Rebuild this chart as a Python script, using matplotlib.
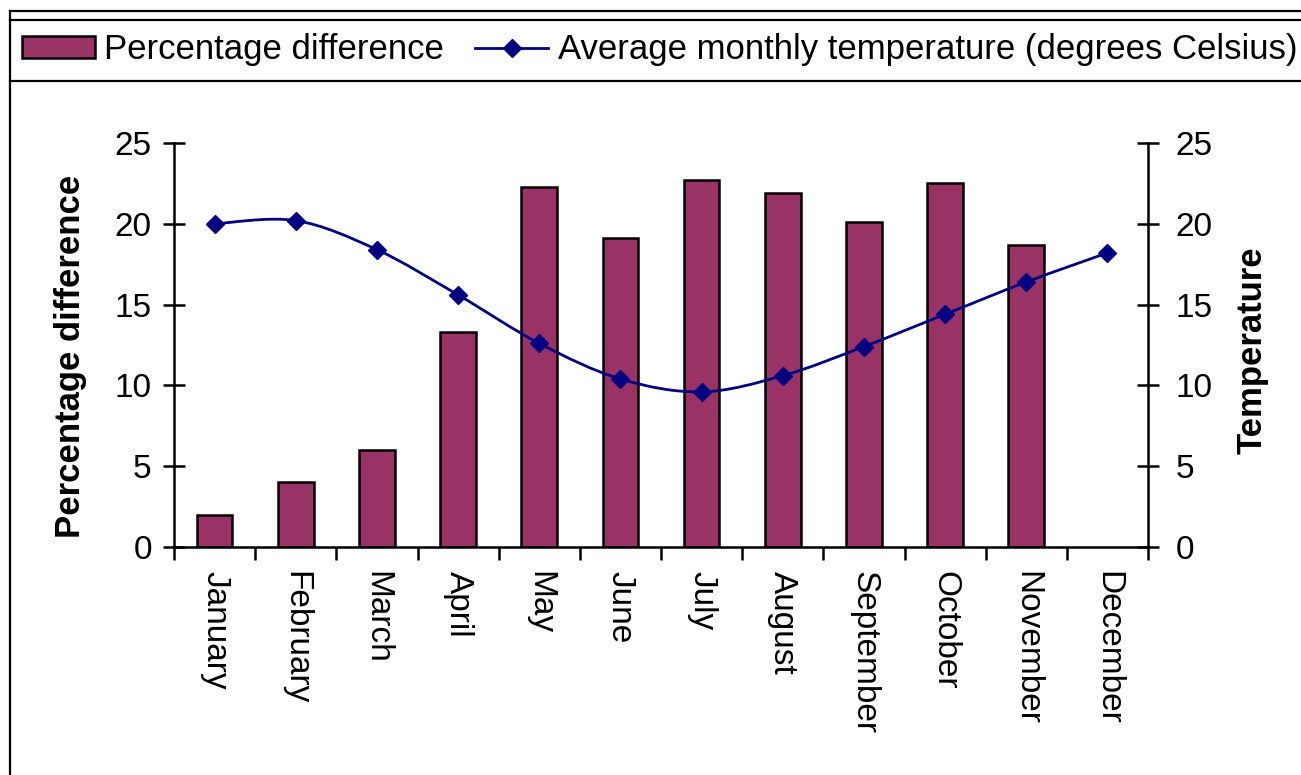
import numpy as np
import matplotlib.pyplot as plt
from matplotlib.lines import Line2D
from matplotlib.patches import Patch, PathPatch
from matplotlib.path import Path

plt.rcParams['font.family'] = ['Liberation Sans', 'DejaVu Sans']

# Les données
mois = ['January', 'February', 'March', 'April', 'May', 'June', 'July',
        'August', 'September', 'October', 'November', 'December']
pct_diff = [2.0, 4.0, 6.0, 13.3, 22.3, 19.1, 22.7, 21.9, 20.1, 22.5, 18.7, np.nan]
temperature = [20.0, 20.2, 18.4, 15.6, 12.6, 10.4, 9.6, 10.6, 12.4, 14.4, 16.4, 18.2]

BAR_COLOR = '#993366'
LINE_COLOR = '#000080'
W, H = 1301, 775

fig = plt.figure(figsize=(W / 100, H / 100), dpi=100)
ax = fig.add_axes([174 / W, 1 - 547 / H, (1148 - 174) / W, (547 - 143) / H])
ax2 = ax.twinx()

x = np.arange(len(mois))
ax.bar(x, pct_diff, width=0.44, color=BAR_COLOR, edgecolor='black', linewidth=1.8, zorder=2)

# Ligne lissée façon Excel (courbes de Bézier entre les points)
pts = np.column_stack([x, temperature]).astype(float)
verts = [pts[0]]
codes = [Path.MOVETO]
for i in range(len(pts) - 1):
    p0 = pts[max(i - 1, 0)]
    p1 = pts[i]
    p2 = pts[i + 1]
    p3 = pts[min(i + 2, len(pts) - 1)]
    verts += [p1 + (p2 - p0) / 6, p2 - (p3 - p1) / 6, p2]
    codes += [Path.CURVE4] * 3
ax2.add_patch(PathPatch(Path(verts, codes), fill=False, edgecolor=LINE_COLOR, linewidth=2.0, zorder=3))
ax2.plot(x, temperature, linestyle='none', marker='D', markersize=9.5,
         color=LINE_COLOR, zorder=4)

for a in (ax, ax2):
    a.set_xlim(-0.5, len(mois) - 0.5)
    a.set_ylim(0, 25)
    a.set_yticks(range(0, 26, 5))
    for s in a.spines.values():
        s.set_linewidth(1.8)
    a.spines['top'].set_visible(False)
ax.spines['right'].set_visible(False)
ax2.spines['left'].set_visible(False)
ax2.spines['bottom'].set_visible(False)

ax.tick_params(axis='y', direction='inout', length=16, width=1.8, labelsize=24, pad=8)
ax2.tick_params(axis='y', direction='inout', length=16, width=1.8, labelsize=24, pad=12)

ax.set_xticks(x)
ax.set_xticklabels(mois, rotation=270, fontsize=24)
ax.tick_params(axis='x', which='major', length=0, pad=17)
ax.set_xticks(np.arange(-0.5, len(mois), 1.0), minor=True)
ax.tick_params(axis='x', which='minor', direction='out', length=9, width=1.8)
for lab in ax.get_xticklabels():
    lab.set_verticalalignment('top')

ax.set_ylabel('Percentage difference', fontsize=25, fontweight='bold', va='center')
ax.yaxis.set_label_coords(-0.106, 0.473)
ax2.set_ylabel('Temperature', fontsize=25, fontweight='bold', rotation=90, va='center')
ax2.yaxis.set_label_coords(1.107, 0.488)

handles = [Patch(facecolor=BAR_COLOR, edgecolor='black', linewidth=1.8),
           Line2D([], [], color=LINE_COLOR, linewidth=2.0, marker='D', markersize=9.5)]
labels = ['Percentage difference', 'Average monthly temperature (degrees Celsius)']
fig.legend(handles, labels, loc='center left', bbox_to_anchor=(22 / W, 1 - 50 / H),
           ncol=2, frameon=False, fontsize=25, handlelength=2.1, handleheight=0.58,
           handletextpad=0.27, columnspacing=0.9, borderpad=0, borderaxespad=0)

# Cadres du graphique et de la légende
for (x0, y0, x1, y1) in [(10, 11, W, 11), (10, 20, W, 20), (10, 81, W, 81), (10, 11, 10, H)]:
    fig.add_artist(Line2D([x0 / W, x1 / W], [1 - y0 / H, 1 - y1 / H],
                          transform=fig.transFigure, color='black', linewidth=1.6))

fig.savefig('out.png', dpi=100)
